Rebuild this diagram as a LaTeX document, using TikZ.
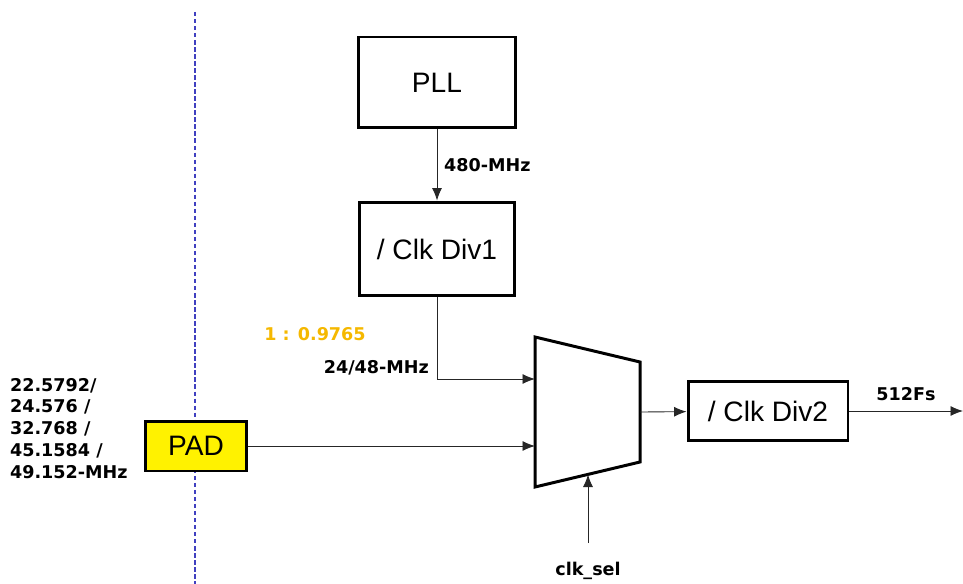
\documentclass[tikz,border=0pt]{standalone}
\usepackage{fontspec}
\setmainfont{Liberation Sans}
\newfontfamily\labelfont{DejaVu Sans}
\usetikzlibrary{arrows.meta,positioning,calc}
\definecolor{ratiogold}{HTML}{F5B800}
\definecolor{borderblue}{HTML}{4040C0}
\tikzset{
  blockbox/.style={
    draw=black,
    line width=1.7pt,
    align=center,
    font=\fontsize{16}{19}\selectfont
  },
  padbox/.style={
    blockbox,
    fill=yellow
  },
  freqlabel/.style={
    font=\labelfont\bfseries\fontsize{10}{12.4}\selectfont,
    inner sep=1pt
  },
  arrow/.style={
    -{Latex[length=2.5mm,width=2mm]},
    line width=0.5pt,
    draw=black!85
  }
}

\begin{document}
\begin{tikzpicture}[x=0.02cm,y=-0.02cm]
\useasboundingbox (0,0) rectangle (963,584);
% chip boundary
\draw[borderblue, dash pattern=on 2.5pt off 1.5pt, line width=0.6pt] (195,12) -- (195,584);
% blocks
\node[blockbox, minimum width=3.14cm, minimum height=1.82cm] (pll) at (437,82.5) {PLL};
\node[blockbox, minimum width=3.1cm, minimum height=1.88cm] (div1) at (437,249) {/ Clk Div1};
\node[blockbox, minimum width=3.2cm, minimum height=1.18cm] (div2) at (768,411) {/ Clk Div2};
\node[padbox, minimum width=2.04cm, minimum height=1.0cm] (pad) at (196,446) {PAD};
% mux
\draw[line width=1.7pt] (535,337) -- (640,362) -- (640,462) -- (535,487) -- cycle;
\coordinate (muxa) at (535,379);
\coordinate (muxb) at (535,446);
\coordinate (muxo) at (640,412);
\coordinate (muxs) at (588,474.5);
\coordinate (sel) at (588,543);
\coordinate (out) at (963,411);
% labels
\node[freqlabel, anchor=north west, align=left] (padfreq) at (8,376)
  {22.5792/\\24.576 /\\32.768 /\\45.1584 /\\49.152-MHz};
\node[freqlabel, text=ratiogold] (ratio) at (315,334) {1 : 0.9765};
\node[freqlabel, anchor=east] (divfreq) at (431,368) {24/48-MHz};
\node[freqlabel] (fsout) at (906,394) {512Fs};
\node[freqlabel] (sellabel) at (588,571) {clk\_sel};
% connectors
\draw[arrow] (pll) -- node[freqlabel, right, xshift=0.1cm] {480-MHz} (div1);
\draw[arrow] (div1.south) |- (muxa);
\draw[arrow] (pad) -- (muxb);
\draw[arrow] (muxo) -- (div2);
\draw[arrow] (div2) -- (out);
\draw[arrow] (sel) -- (muxs);
\end{tikzpicture}
\end{document}
